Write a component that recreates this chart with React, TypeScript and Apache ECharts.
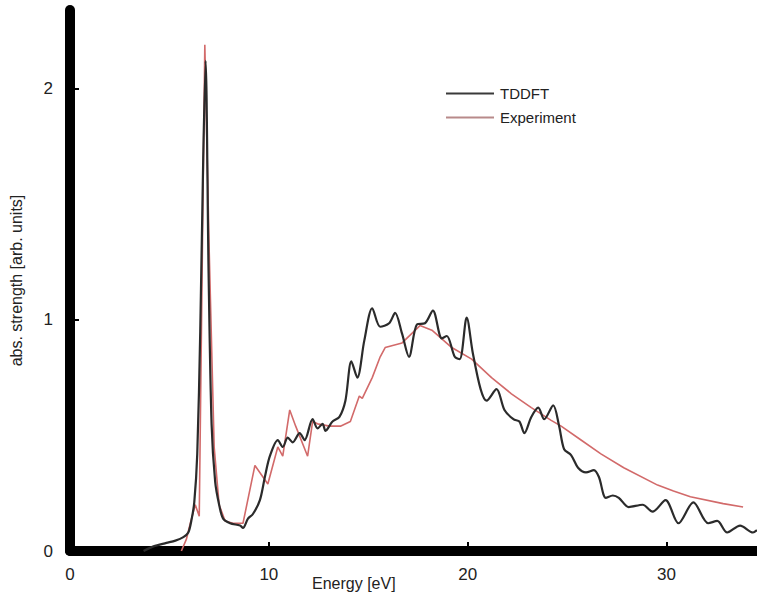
import React, { useEffect, useRef } from "react";
import * as echarts from "echarts";

const xTicks = [0, 10, 20, 30];
const yTicks = [0, 1, 2];

const tddftX = [3.7, 4.2, 4.85, 5.3, 5.7, 5.95, 6.1, 6.25, 6.4, 6.55, 6.7, 6.82, 6.97, 7.12, 7.3, 7.5, 7.7, 8.05, 8.55, 8.7, 8.95, 9.2, 9.55, 9.8, 10.05, 10.45, 10.7, 10.95, 11.2, 11.55, 11.8, 12.2, 12.45, 12.7, 12.85, 13.2, 13.55, 13.85, 14.15, 14.45, 14.8, 15.2, 15.6, 16.05, 16.35, 16.7, 17.05, 17.45, 17.85, 18.25, 18.7, 18.95, 19.35, 19.6, 19.95, 20.25, 20.65, 20.95, 21.45, 21.85, 22.3, 22.6, 22.85, 23.2, 23.55, 23.85, 24.3, 24.6, 24.85, 25.2, 25.55, 25.95, 26.35, 26.6, 26.95, 27.3, 27.6, 28.1, 28.8, 29.3, 29.95, 30.6, 31.35, 32.1, 32.55, 33.05, 33.7, 34.35, 34.55];
const tddftY = [0.0, 0.02, 0.035, 0.045, 0.06, 0.08, 0.13, 0.21, 0.42, 0.95, 1.7, 2.12, 1.2, 0.55, 0.3, 0.2, 0.14, 0.12, 0.11, 0.10, 0.14, 0.16, 0.22, 0.32, 0.41, 0.48, 0.45, 0.49, 0.47, 0.51, 0.48, 0.57, 0.53, 0.55, 0.52, 0.56, 0.58, 0.65, 0.82, 0.75, 0.91, 1.05, 0.97, 0.985, 1.03, 0.94, 0.84, 0.98, 0.985, 1.04, 0.92, 0.93, 0.84, 0.83, 1.01, 0.86, 0.7, 0.65, 0.70, 0.61, 0.57, 0.56, 0.51, 0.58, 0.62, 0.57, 0.63, 0.54, 0.44, 0.415, 0.36, 0.34, 0.35, 0.32, 0.23, 0.24, 0.23, 0.19, 0.20, 0.17, 0.22, 0.12, 0.21, 0.12, 0.13, 0.08, 0.11, 0.08, 0.09];

const expX = [5.6, 5.85, 6.05, 6.3, 6.5, 6.78, 7.0, 7.25, 7.5, 7.8, 8.2, 8.7, 9.3, 9.95, 10.45, 10.7, 11.05, 11.35, 11.95, 12.2, 12.45, 13.05, 13.6, 14.1, 14.55, 14.7, 15.2, 15.6, 15.85, 16.7, 17.6, 18.2, 19.2, 20.2, 21.2, 22.2, 23.2, 24.2, 24.7, 25.7, 26.7, 27.85, 29.55, 30.35, 31.2, 32.85, 33.85];
const expY = [0.0, 0.05, 0.12, 0.2, 0.15, 2.19, 1.3, 0.45, 0.2, 0.13, 0.12, 0.12, 0.37, 0.29, 0.45, 0.41, 0.61, 0.54, 0.41, 0.56, 0.55, 0.54, 0.54, 0.56, 0.67, 0.66, 0.75, 0.84, 0.88, 0.90, 0.975, 0.955, 0.88, 0.83, 0.75, 0.68, 0.62, 0.565, 0.54, 0.48, 0.42, 0.36, 0.285, 0.26, 0.235, 0.205, 0.19];

const FONT = "Liberation Sans, Arial, Helvetica, sans-serif";

export default function App() {
  const ref = useRef<HTMLDivElement>(null);
  useEffect(() => {
    if (!ref.current) return;
    const chart = echarts.init(ref.current, null, { renderer: "svg" });
    const tddft = tddftX.map((x, i) => [x, tddftY[i]]);
    const exp = expX.map((x, i) => [x, expY[i]]);
    chart.setOption({
      animation: false,
      backgroundColor: "#ffffff",
      textStyle: { fontFamily: FONT },
      grid: { left: 67, top: 10, right: 0, bottom: 50 },
      legend: {
        data: ["TDDFT", "Experiment"],
        orient: "vertical",
        left: 441,
        top: 81,
        icon: "rect",
        itemWidth: 48,
        itemHeight: 2,
        itemGap: 9,
        textStyle: { fontSize: 15, color: "#222", fontFamily: FONT, padding: [0, 0, 0, 1] },
      },
      xAxis: {
        type: "value",
        min: 0,
        max: 34.55,
        interval: 10,
        splitLine: { show: false },
        axisLine: { show: true, onZero: false, lineStyle: { color: "#000", width: 10 } },
        axisTick: { show: true, inside: true, length: 9, customValues: xTicks, lineStyle: { color: "#000", width: 2 } },
        axisLabel: { customValues: xTicks, fontSize: 17, color: "#222", margin: 15, fontFamily: FONT },
      },
      yAxis: {
        type: "value",
        min: 0,
        max: 2.34,
        interval: 1,
        name: "abs. strength [arb. units]",
        nameLocation: "middle",
        nameGap: 46,
        nameTextStyle: { fontSize: 16, color: "#222", fontFamily: FONT },
        splitLine: { show: false },
        axisLine: { show: true, lineStyle: { color: "#000", width: 10 } },
        axisTick: { show: true, inside: true, length: 9, customValues: yTicks, lineStyle: { color: "#000", width: 2 } },
        axisLabel: { customValues: yTicks, fontSize: 17, color: "#222", margin: 17, fontFamily: FONT },
      },
      graphic: [
        {
          type: "text",
          left: 312,
          top: 575,
          style: { text: "Energy [eV]", fontSize: 16, fill: "#222", fontFamily: FONT },
        },
      ],
      series: [
        {
          name: "TDDFT",
          type: "line",
          data: tddft,
          showSymbol: false,
          symbol: "none",
          smooth: 0.3,
          lineStyle: { color: "#2b2b2b", width: 2.2 },
          itemStyle: { color: "#3a3a3a" },
          z: 3,
        },
        {
          name: "Experiment",
          type: "line",
          data: exp,
          showSymbol: false,
          symbol: "none",
          smooth: false,
          lineStyle: { color: "#d26a6a", width: 1.6 },
          itemStyle: { color: "#b88a8a" },
          z: 2,
        },
      ],
    });
    return () => chart.dispose();
  }, []);
  return <div ref={ref} style={{ width: 757, height: 601, position: "absolute", left: 0, top: 0 }} />;
}
